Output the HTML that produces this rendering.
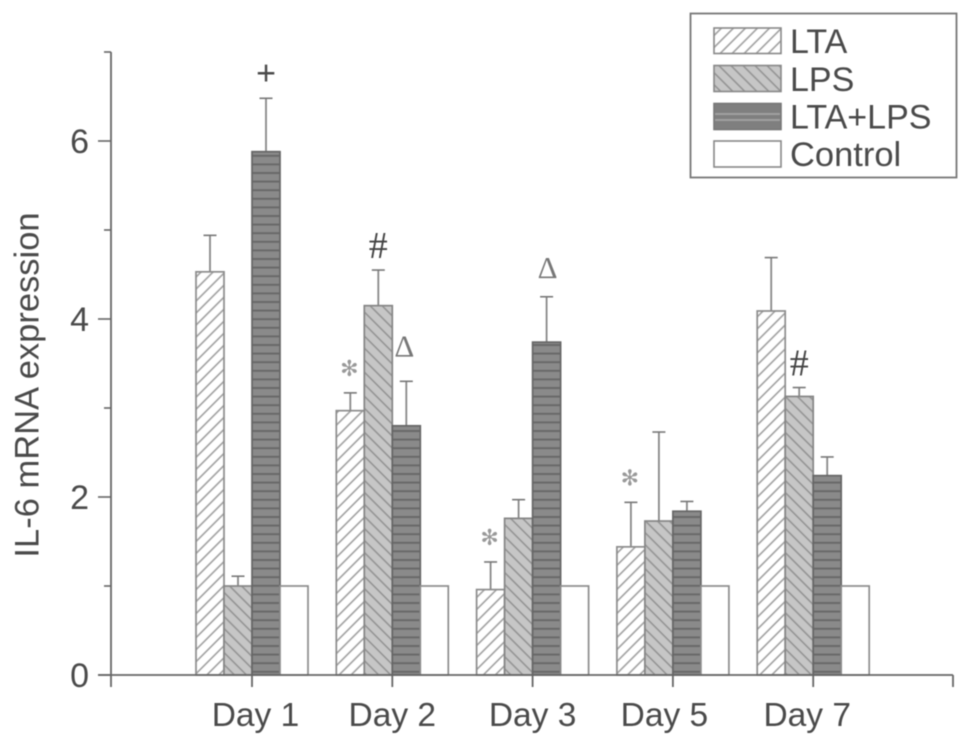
<!DOCTYPE html>
<html lang="en">
<head>
<meta charset="utf-8">
<title>IL-6 mRNA expression</title>
<style>
html,body{margin:0;padding:0;background:#fff;width:969px;height:746px;overflow:hidden}
svg{display:block;filter:blur(.45px)}
text{font-family:"Liberation Sans",sans-serif;fill:#4a4a4a}
</style>
</head>
<body>
<svg id="chart" xmlns="http://www.w3.org/2000/svg" width="969" height="746" viewBox="0 0 969 746">
<defs>
<pattern id="p-lta" width="8.500" height="8.500" patternUnits="userSpaceOnUse" patternTransform="rotate(45)"><rect width="8.500" height="8.500" fill="#fff"/><line x1="3" y1="0" x2="3" y2="8.500" stroke="#9a9a9a" stroke-width="1.5"/></pattern>
<pattern id="p-lps" width="8.500" height="8.500" patternUnits="userSpaceOnUse" patternTransform="rotate(-45)"><rect width="8.500" height="8.500" fill="#c6c6c6"/><line x1="3" y1="0" x2="3" y2="8.500" stroke="#8e8e8e" stroke-width="1.4"/></pattern>
<pattern id="p-combo" width="10" height="8.6" patternUnits="userSpaceOnUse"><rect width="10" height="8.6" fill="#8a8a8a"/><rect y="0" width="10" height="2" fill="#696969"/></pattern>
</defs>
<g id="plot"></g>
<g>
<rect x="690.500" y="13.500" width="266" height="164" fill="#fff" stroke="#777" stroke-width="1.8"/>
<g><rect x="714" y="28" width="67" height="25.500" fill="url(#p-lta)" stroke="#888" stroke-width="1.6"/><text x="790" y="53" font-size="34">LTA</text></g>
<g><rect x="714" y="65.500" width="67" height="26" fill="url(#p-lps)" stroke="#888" stroke-width="1.6"/><text x="790" y="91" font-size="34">LPS</text></g>
<g><rect x="714" y="103.500" width="67" height="26" fill="#7f7f7f" stroke="#777" stroke-width="1.6"/><rect x="715" y="113" width="65" height="2" fill="#a0a0a0"/><rect x="715" y="119" width="65" height="2" fill="#a0a0a0"/><text x="790" y="128.500" font-size="34">LTA+LPS</text></g>
<g><rect x="714" y="141" width="67" height="26" fill="#fff" stroke="#888" stroke-width="1.6"/><text x="790" y="166" font-size="34.500">Control</text></g>
</g>
<text transform="translate(38.500,385) rotate(-90)" text-anchor="middle" font-size="34.500">IL-6 mRNA expression</text>
</svg>
<script>
var categories = ['Day 1', 'Day 2', 'Day 3', 'Day 5', 'Day 7'];
var seriesNames = ['lta', 'lps', 'combo', 'control'];
var ltaValues = [4.53, 2.97, 0.96, 1.44, 4.09];
var ltaErrors = [0.41, 0.20, 0.31, 0.50, 0.60];
var lpsValues = [1.00, 4.15, 1.76, 1.73, 3.13];
var lpsErrors = [0.11, 0.40, 0.21, 1.00, 0.10];
var comboValues = [5.88, 2.80, 3.74, 1.84, 2.24];
var comboErrors = [0.60, 0.50, 0.51, 0.11, 0.21];
var controlValues = [1, 1, 1, 1, 1];
var yTickLabels = [0, 2, 4, 6];
var yMinorTicks = [1, 3, 5, 7];
var annotationGlyphs = ['+', '#', '\u0394', '\u273B', '\u0394', '\u273B', '\u273B', '#'];
var annotationCategory = [0, 1, 1, 1, 2, 2, 3, 4];
var annotationSeries = ['combo', 'lps', 'combo', 'lta', 'combo', 'lta', 'lta', 'lps'];

var NS = 'http://www.w3.org/2000/svg';
var plot = document.getElementById('plot');
function yScale(v) { return 675 - v * 89; }
function groupX(i) { return 252 + i * 140.3; }
function labelNudge(cat) {
  if (cat === 'Day 1') return 3.5;
  if (cat === 'Day 5') return -8.5;
  if (cat === 'Day 7') return -6;
  return 0;
}
function make(tag, attrs, parent) {
  var el = document.createElementNS(NS, tag);
  for (var k in attrs) el.setAttribute(k, attrs[k]);
  (parent || plot).appendChild(el);
  return el;
}
var BW = 28;
var values = { lta: ltaValues, lps: lpsValues, combo: comboValues, control: controlValues };
var errors = { lta: ltaErrors, lps: lpsErrors, combo: comboErrors };
var fills = { lta: 'url(#p-lta)', lps: 'url(#p-lps)', combo: 'url(#p-combo)', control: '#fff' };
var strokes = { lta: '#8c8c8c', lps: '#858585', combo: '#666', control: '#8c8c8c' };

categories.forEach(function (cat, i) {
  seriesNames.forEach(function (s, j) {
    var x = groupX(i) - 2 * BW + j * BW;
    var v = values[s][i];
    var top = yScale(v);
    if (errors[s]) {
      var et = yScale(v + errors[s][i]);
      var cx = x + BW / 2;
      var e1 = make('line', { x1: cx, x2: cx, y1: top, y2: et, stroke: '#888', 'stroke-width': 1.8 });
      
      
      var e2 = make('line', { x1: cx - 6.5, x2: cx + 6.5, y1: et, y2: et, stroke: '#777', 'stroke-width': 1.6 });
      
      
    }
    var r = make('rect', { x: x, y: top, width: BW, height: 675 - top, fill: fills[s], stroke: strokes[s], 'stroke-width': 1.7 });
    
    
  });
  var lab = make('text', { x: groupX(i) + labelNudge(cat), y: 726, 'text-anchor': 'middle', 'font-size': 33.5 });
  lab.textContent = cat;
  
  
  var t = make('line', { x1: groupX(i), x2: groupX(i), y1: 675, y2: 687, stroke: '#666', 'stroke-width': 1.8 });
  
  
});

var yAxis = make('line', { x1: 111, x2: 111, y1: yScale(7), y2: 687, stroke: '#666', 'stroke-width': 1.8 });


var xAxis = make('line', { x1: 98, x2: 953, y1: 675, y2: 675, stroke: '#666', 'stroke-width': 1.8 });


var xEnd = make('line', { x1: 953, x2: 953, y1: 675, y2: 687, stroke: '#666', 'stroke-width': 1.8 });



yTickLabels.forEach(function (v) {
  var y = yScale(v);
  var t = make('line', { x1: 98, x2: 111, y1: y, y2: y, stroke: '#666', 'stroke-width': 1.6 });
  
  
  var lab = make('text', { x: 89, y: y + 12, 'text-anchor': 'end', 'font-size': 34 });
  lab.textContent = v;
  
  
});
yMinorTicks.forEach(function (v) {
  var y = yScale(v);
  var t = make('line', { x1: 104, x2: 111, y1: y, y2: y, stroke: '#666', 'stroke-width': 1.6 });
  
  
});

annotationGlyphs.forEach(function (g, k) {
  var i = annotationCategory[k];
  var s = annotationSeries[k];
  var j = seriesNames.indexOf(s);
  var cx = groupX(i) - 2 * BW + j * BW + BW / 2;
  var top = yScale(values[s][i] + errors[s][i]);
  var size = 34, dx = 0, dy = -14, family = '"Liberation Sans",sans-serif', fill = '#4a4a4a';
  if (g === '\u273B') { size = 22; dx = -1; dy = -17; family = '"DejaVu Sans",sans-serif'; fill = '#999'; }
  if (g === '\u0394') { size = 31; dx = i === 1 ? -2 : 1; dy = i === 1 ? -25 : -19; family = '"Liberation Serif",serif'; fill = '#777'; }
  if (g === '#') { size = 38; dy = -12; family = '"Liberation Serif",serif'; fill = '#444'; }
  var a = make('text', { x: cx + dx, y: top + dy, 'text-anchor': 'middle', 'font-size': size });
  a.textContent = g;
  a.setAttribute('style', 'fill:' + fill + ';font-family:' + family);
  
  
});
</script>
</body>
</html>
